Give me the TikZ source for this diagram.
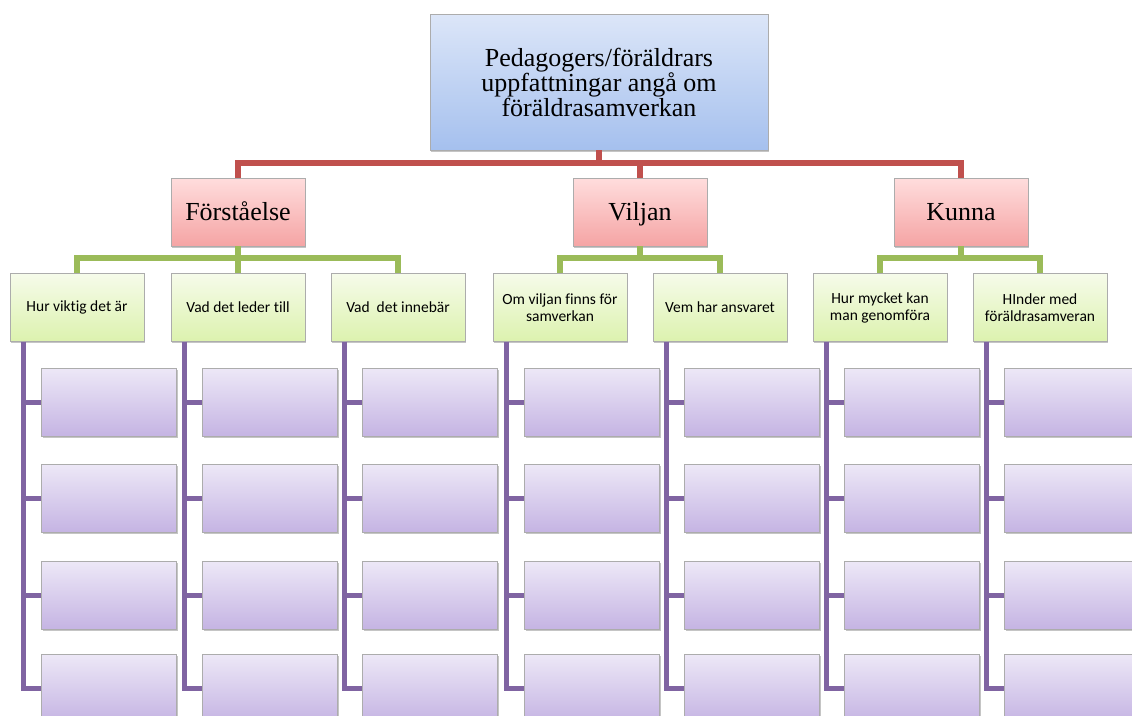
\documentclass[tikz,border=0pt]{standalone}
\usepackage{fontspec}
\setmainfont{Liberation Serif}
\newfontfamily\calibri[Ligatures=NoCommon]{Carlito}
\usetikzlibrary{shadows}

\definecolor{RedLine}{HTML}{C0504D}
\definecolor{GreenLine}{HTML}{9BBB59}
\definecolor{PurpleLine}{HTML}{8064A2}
\definecolor{BlueTop}{HTML}{DCE6F8}
\definecolor{BlueBottom}{HTML}{A5C0EE}
\definecolor{RedTop}{HTML}{FFDDDD}
\definecolor{RedBottom}{HTML}{F5A4A4}
\definecolor{GreenTop}{HTML}{F6FBEA}
\definecolor{GreenBottom}{HTML}{DCF2AE}
\definecolor{PurpleTop}{HTML}{EDE8F7}
\definecolor{PurpleBottom}{HTML}{C5B4E3}

\begin{document}
\begin{tikzpicture}[
            x=1pt, y=-1pt,
            box/.style={draw=gray!65, line width=0.8pt, minimum width=134pt, minimum height=68pt,
                inner sep=2pt, align=center,
                drop shadow={shadow xshift=1.2pt, shadow yshift=-1.8pt, opacity=0.45}},
            topbox/.style={box, minimum width=338pt, minimum height=136pt,
                top color=BlueTop, bottom color=BlueBottom, font=\fontsize{26}{25}\selectfont},
            catbox/.style={box, top color=RedTop, bottom color=RedBottom, text height=17pt, text depth=0pt,
                font=\fontsize{26}{28}\selectfont},
            subbox/.style={box, top color=GreenTop, bottom color=GreenBottom, font=\calibri\fontsize{15.5}{17}\selectfont},
            itembox/.style={box, minimum width=135pt, top color=PurpleTop, bottom color=PurpleBottom},
            redline/.style={RedLine, line width=6pt},
            greenline/.style={GreenLine, line width=6pt},
            purpleline/.style={PurpleLine, line width=5pt}
        ]
            \useasboundingbox[fill=white] (0, 0) rectangle (1132, 715);

            % top level
            \node[topbox] (top) at (599, 82) {Pedagogers/föräldrars\\uppfattningar angå om\\föräldrasamverkan};

            % second level
            \node[catbox] (forst) at (238, 212) {Förståelse};
            \node[catbox] (vilja) at (640, 212) {Viljan};
            \node[catbox] (kunna) at (961, 212) {Kunna};

            % third level
            \node[subbox] (s1) at (77, 307.5) {Hur viktig det är};
            \node[subbox] (s2) at (238, 307.5) {Vad det leder till};
            \node[subbox] (s3) at (398, 307.5) {Vad\ \ det innebär};
            \node[subbox] (s4) at (560, 307.5) {Om viljan finns för\\samverkan};
            \node[subbox] (s5) at (720, 307.5) {Vem har ansvaret};
            \node[subbox] (s6) at (880, 307.5) {Hur mycket kan\\man genomföra};
            \node[subbox] (s7) at (1040, 307.5) {HInder med\\föräldrasamveran};

            \draw[redline] (top.south) -- ++(0, 13) coordinate (fork) -| (forst.north);
            \draw[redline] (fork) -| (vilja.north);
            \draw[redline] (fork) -| (kunna.north);

            \draw[greenline] (forst.south) -- ++(0, 12) coordinate (g1) -| (s1.north);
            \draw[greenline] (g1) -| (s2.north);
            \draw[greenline] (g1) -| (s3.north);
            \draw[greenline] (vilja.south) -- ++(0, 12) coordinate (g2) -| (s4.north);
            \draw[greenline] (g2) -| (s5.north);
            \draw[greenline] (kunna.south) -- ++(0, 12) coordinate (g3) -| (s6.north);
            \draw[greenline] (g3) -| (s7.north);

            % empty boxes below every third-level box
            \foreach \n/\x in {1/77, 2/238, 3/398, 4/560, 5/720, 6/880, 7/1040} {
                \coordinate (p\n) at ([xshift=14pt]s\n.south west);
                \foreach \k/\y in {1/402, 2/498, 3/595, 4/688} {
                    \node[itembox] (i\n\k) at (\x + 32, \y) {};
                }
                \draw[purpleline] (p\n) |- (i\n4.west);
                \foreach \k in {1, 2, 3} {
                    \draw[purpleline] (i\n\k.west) -- (i\n\k.west -| p\n);
                }
            }
        \end{tikzpicture}
\end{document}
